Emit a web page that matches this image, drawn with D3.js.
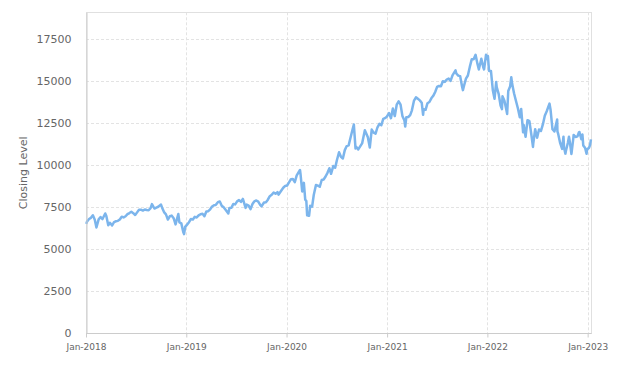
<!DOCTYPE html>
<html lang="en">
<head>
<meta charset="utf-8">
<title>Closing Level</title>
<script src="https://cdn.jsdelivr.net/npm/d3@7"></script>
<style>
  body { margin: 0; background: #fff; }
  text { font-family: "DejaVu Sans", sans-serif; fill: #666; }
</style>
</head>
<body>
<div class="chart"></div>
<script>
// weekly-ish closes (month-day, level)
var y2018 = [
  ["01-02",6511],["01-05",6655],["01-12",6800],["01-19",6870],["01-26",7022],["02-02",6759],["02-08",6300],
  ["02-16",6778],["02-23",6916],["03-02",6798],["03-12",7130],["03-16",6982],["03-23",6431],["03-29",6581],
  ["04-06",6414],["04-13",6620],["04-20",6667],["04-27",6690],["05-04",6775],["05-11",6935],["05-18",6896],
  ["05-25",6963],["06-01",7088],["06-08",7155],["06-15",7229],["06-22",7147],["06-29",7040],["07-06",7195],
  ["07-13",7353],["07-20",7356],["07-27",7300],["08-03",7367],["08-10",7335],["08-17",7323],["08-24",7448],
  ["08-29",7690],["09-07",7425],["09-14",7480],["09-21",7530],["10-01",7660],["10-05",7476],["10-12",7213],
  ["10-19",7079],["10-26",6771],["11-02",6962],["11-09",7002],["11-16",6847],["11-23",6478],["12-03",7100],
  ["12-07",6598],["12-14",6540],["12-21",6030],["12-24",5900],["12-28",6330]
];
var y2019 = [
  ["01-04",6468],["01-11",6609],["01-18",6800],["01-25",6766],["02-01",6930],["02-08",6892],["02-15",7016],
  ["02-22",7087],["03-01",7111],["03-08",6968],["03-15",7250],["03-22",7265],["03-29",7378],["04-05",7544],
  ["04-12",7620],["04-18",7630],["04-26",7800],["05-03",7845],["05-10",7593],["05-17",7500],["05-24",7350],
  ["06-03",7127],["06-07",7456],["06-14",7464],["06-21",7689],["06-28",7671],["07-05",7850],["07-12",7925],
  ["07-19",7824],["07-26",7995],["08-05",7460],["08-09",7660],["08-16",7600],["08-23",7390],["08-30",7690],
  ["09-06",7852],["09-13",7905],["09-20",7835],["09-27",7641],["10-02",7560],["10-11",7780],["10-18",7800],
  ["10-25",7950],["11-01",8160],["11-08",8240],["11-15",8380],["11-22",8300],["11-29",8403],["12-03",8250],
  ["12-13",8500],["12-20",8660],["12-27",8770]
];
var y2020 = [
  ["01-03",8793],["01-10",8980],["01-17",9170],["01-24",9180],["01-31",8990],["02-07",9400],["02-19",9718],
  ["02-21",9450],["02-27",8440],["03-04",8950],["03-09",7950],["03-13",7875],["03-16",7020],["03-20",7000],
  ["03-23",6994],["03-27",7590],["04-03",7530],["04-09",8230],["04-17",8830],["04-24",8790],["05-01",8720],
  ["05-08",9120],["05-15",9150],["05-22",9330],["05-29",9550],["06-05",9820],["06-11",9490],["06-19",9950],
  ["06-26",9850],["07-02",10280],["07-10",10770],["07-17",10500],["07-24",10400],["07-31",10900],["08-07",11140],
  ["08-14",11180],["08-21",11650],["08-28",12110],["09-02",12420],["09-08",11000],["09-11",11090],["09-18",10940],
  ["09-25",11120],["10-02",11300],["10-12",12088],["10-16",11940],["10-23",11670],["10-30",11050],["11-06",12120],
  ["11-13",11940],["11-20",11880],["11-27",12260],["12-04",12460],["12-11",12380],["12-18",12760],["12-24",12800],
  ["12-31",12890]
];
var y2021 = [
  ["01-08",13100],["01-15",12800],["01-22",13370],["01-29",12925],["02-05",13600],["02-12",13800],["02-19",13600],
  ["02-26",12910],["03-05",12670],["03-08",12300],["03-12",12860],["03-19",12870],["03-26",12980],["04-01",13250],
  ["04-09",13850],["04-16",14040],["04-23",13950],["04-30",13860],["05-07",13720],["05-12",13000],["05-14",13330],
  ["05-21",13300],["05-28",13690],["06-04",13760],["06-11",13980],["06-18",14130],["06-25",14360],["07-02",14660],
  ["07-09",14720],["07-16",14700],["07-23",15000],["07-30",14960],["08-06",15100],["08-13",15160],["08-20",15020],
  ["08-27",15350],["09-07",15650],["09-10",15460],["09-17",15330],["09-24",15300],["10-01",14670],["10-04",14470],
  ["10-08",14730],["10-15",15150],["10-22",15340],["10-29",15850],["11-05",16300],["11-12",16300],["11-19",16570],
  ["11-26",16030],["12-01",15700],["12-10",16340],["12-17",15830],["12-20",15700],["12-27",16570],["12-31",16320]
];
var y2022 = [
  ["01-03",16500],["01-07",15610],["01-14",15610],["01-21",14440],["01-27",13950],["02-02",14950],["02-04",14650],
  ["02-11",14250],["02-18",13550],["02-23",13340],["02-25",14100],["03-04",13840],["03-11",13300],["03-14",13050],
  ["03-18",14420],["03-25",14700],["03-29",15240],["04-01",14860],["04-08",14280],["04-14",13900],["04-22",13390],
  ["04-29",12850],["05-04",13350],["05-11",11960],["05-13",12390],["05-20",11690],["05-27",12680],["06-03",12620],
  ["06-10",11830],["06-16",11090],["06-17",11290],["06-24",12140],["07-01",11630],["07-08",12130],["07-15",12040],
  ["07-22",12430],["07-29",12950],["08-05",13210],["08-15",13670],["08-19",13300],["08-26",12140],["09-02",12010],
  ["09-12",12720],["09-13",12020],["09-16",11850],["09-23",11310],["09-30",10970],["10-05",11700],["10-07",11050],
  ["10-12",10690],["10-14",10860],["10-21",11340],["10-25",11700],["10-28",11400],["11-03",10670],["11-10",11630],
  ["11-11",11800],["11-18",11680],["11-25",11720],["11-30",11950],["12-02",11980],["12-09",11550],["12-13",11830],
  ["12-16",11180],["12-23",11020],["12-28",10680],["12-30",10940]
];
var y2023 = [["01-06",11040],["01-10",11210],["01-13",11540]];

var years = [[2018,y2018],[2019,y2019],[2020,y2020],[2021,y2021],[2022,y2022],[2023,y2023]];
var yTicks = [0, 2500, 5000, 7500, 10000, 12500, 15000, 17500];

var parse = d3.timeParse("%Y-%m-%d");
var data = [];
years.forEach(function(yr) {
  yr[1].forEach(function(p) { data.push({date: parse(yr[0] + "-" + p[0]), close: p[1]}); });
});

var W = 631, H = 366;
var mLeft = 86, mRight = 591.5, mTop = 12.3, mBottom = 333.3;

var svg = d3.select(".chart").append("svg")
    .attr("width", W)
    .attr("height", H);

var x = d3.scaleTime()
    .domain([new Date(2018, 0, 1), new Date(2023, 0, 15)])
    .range([mLeft, mRight]);

var y = d3.scaleLinear()
    .domain([0, 19100])
    .range([mBottom, mTop]);

var xTicks = d3.timeYear.range(new Date(2018, 0, 1), new Date(2023, 0, 2));

// grid
svg.append("g").selectAll("line").data(yTicks.slice(1)).enter().append("line")
    .attr("x1", mLeft).attr("x2", mRight)
    .attr("y1", function(d) { return Math.round(y(d)) + 0.5; })
    .attr("y2", function(d) { return Math.round(y(d)) + 0.5; })
    .attr("stroke", "#e3e3e3").attr("stroke-dasharray", "3,2");

svg.append("g").selectAll("line").data(xTicks.slice(1)).enter().append("line")
    .attr("x1", function(d) { return Math.round(x(d)) + 0.5; })
    .attr("x2", function(d) { return Math.round(x(d)) + 0.5; })
    .attr("y1", mTop).attr("y2", mBottom)
    .attr("stroke", "#e3e3e3").attr("stroke-dasharray", "3,2");

// frame
svg.append("rect")
    .attr("x", mLeft + 0.5).attr("y", Math.round(mTop) + 0.5)
    .attr("width", mRight - mLeft - 0.5).attr("height", mBottom - mTop)
    .attr("fill", "none").attr("stroke", "#e0e0e0");

// line
var line = d3.line()
    .x(function(d) { return x(d.date); })
    .y(function(d) { return y(d.close); });

svg.append("path")
    .datum(data)
    .attr("fill", "none")
    .attr("stroke", "#7cb5ec")
    .attr("stroke-width", 2.5)
    .attr("stroke-linejoin", "round")
    .attr("d", line);

// axes
var xAxis = d3.axisBottom(x)
    .tickValues(xTicks)
    .tickFormat(d3.timeFormat("%b-%Y"))
    .tickSize(4)
    .tickSizeOuter(0);

var gx = svg.append("g")
    .attr("transform", "translate(0," + (Math.round(mBottom) + 0.5) + ")")
    .call(xAxis);
gx.select(".domain").attr("stroke", "#ccc").attr("d", "M" + mLeft + ",0H" + mRight);
gx.selectAll(".tick line").attr("stroke", "#ccc");
gx.selectAll(".tick text").attr("font-size", 9).attr("fill", "#666").attr("font-family", "DejaVu Sans").attr("dy", "1.05em");

var yAxis = d3.axisLeft(y)
    .tickValues(yTicks)
    .tickSize(0)
    .tickPadding(15)
    .tickFormat(d3.format("d"));

var gy = svg.append("g")
    .attr("transform", "translate(" + (mLeft + 0.5) + ",0)")
    .call(yAxis);
gy.select(".domain").attr("stroke", "#ccc");
gy.selectAll(".tick text").attr("font-size", 11).attr("fill", "#666").attr("font-family", "DejaVu Sans");

svg.append("text")
    .attr("transform", "translate(27," + ((mTop + mBottom) / 2) + ") rotate(-90)")
    .attr("text-anchor", "middle")
    .attr("font-size", 11)
    .text("Closing Level");
</script>
</body>
</html>
